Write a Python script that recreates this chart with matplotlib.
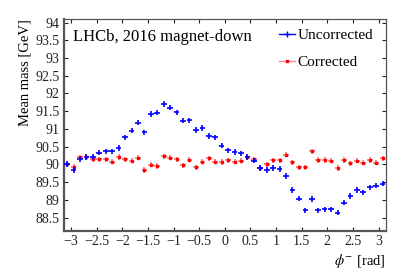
import numpy as np
import matplotlib
matplotlib.use("Agg")
import matplotlib.pyplot as plt
from matplotlib.lines import Line2D

plt.rcParams["font.family"] = ["Liberation Serif", "DejaVu Serif"]
plt.rcParams["mathtext.fontset"] = "stix"

# 50 bins in phi^- over [-pi, pi]
n_bins = 50
phi = -np.pi + (np.arange(n_bins) + 0.5) * 2 * np.pi / n_bins

uncorrected = [
    90.01, 89.84, 90.14, 90.21, 90.21, 90.33, 90.37, 90.37, 90.46, 90.76,
    90.95, 91.18, 90.90, 91.42, 91.46, 91.70, 91.60, 91.47, 91.23, 91.24,
    90.97, 91.03, 90.80, 90.76, 90.53, 90.40, 90.35, 90.31, 90.21, 90.10,
    89.90, 89.84, 89.90, 89.87, 89.67, 89.28, 89.03, 88.70, 89.02, 88.70,
    88.73, 88.73, 88.64, 88.92, 89.11, 89.28, 89.21, 89.35, 89.40, 89.46,
]
corrected = [
    90.01, 89.93, 90.20, 90.20, 90.14, 90.14, 90.14, 90.08, 90.21, 90.14,
    90.10, 90.19, 89.84, 89.99, 89.95, 90.23, 90.19, 90.14, 89.97, 90.13,
    89.92, 90.08, 90.17, 90.08, 90.07, 90.11, 90.08, 90.10, 90.20, 90.14,
    89.90, 90.00, 90.11, 90.11, 90.27, 90.06, 89.92, 89.92, 90.37, 90.12,
    90.12, 90.10, 89.90, 90.12, 90.03, 90.10, 90.05, 90.12, 90.05, 90.17,
]
xerr = 0.055
yerr = 0.075

fig = plt.figure(figsize=(4.07, 2.76), dpi=100)
ax = fig.add_axes([0.157, 0.163, 0.791, 0.768])

ax.errorbar(phi, corrected, xerr=xerr, yerr=yerr, fmt="s", color="red",
            ms=1.9, ecolor=(1, 0.5, 0.5), elinewidth=1.3, capsize=0, zorder=2)
ax.errorbar(phi, uncorrected, xerr=xerr, yerr=yerr, fmt="none",
            ecolor="blue", elinewidth=1.2, capsize=0, zorder=3)

ax.set_xlim(-np.pi, np.pi)
ax.set_ylim(88.12, 94.1)
ax.set_xticks(np.arange(-3, 3.01, 0.5))
ax.set_xticklabels(["\u22123", "\u22122.5", "\u22122", "\u22121.5", "\u22121", "\u22120.5",
                    "0", "0.5", "1", "1.5", "2", "2.5", "3"])
ax.set_yticks(np.arange(88.5, 94.01, 0.5))
ax.set_yticklabels([f"{v:g}" for v in np.arange(88.5, 94.01, 0.5)])
ax.tick_params(direction="in", top=True, right=True, length=3, width=0.8,
               labelsize=10, colors="#222222", pad=3)

for s in ax.spines.values():
    s.set_color("#555555")
    s.set_linewidth(0.9)
ax.spines["left"].set_linewidth(1.6)
ax.spines["bottom"].set_linewidth(1.6)

ax.set_ylabel("Mean mass [GeV]", fontsize=10.5, loc="top", labelpad=3)
ax.set_xlabel(r"$\phi^{-}$ [rad]", fontsize=10.5, loc="right", labelpad=3)

ax.text(0.028, 0.895, "LHCb, 2016 magnet-down", transform=ax.transAxes,
        fontsize=12, va="baseline", ha="left")

handles = [
    Line2D([], [], color="blue", marker="+", ms=4, lw=1.0),
    Line2D([], [], color=(1, 0.55, 0.55), marker="s", mfc="red", mec="red", ms=2.0, lw=1.0),
]
ax.legend(handles, ["Uncorrected", "Corrected"], loc="upper left",
          bbox_to_anchor=(0.668, 0.955), frameon=False, fontsize=11,
          borderpad=0, borderaxespad=0, handlelength=1.05, handletextpad=0.15,
          labelspacing=0.85)

fig.savefig("out.png", dpi=100)
